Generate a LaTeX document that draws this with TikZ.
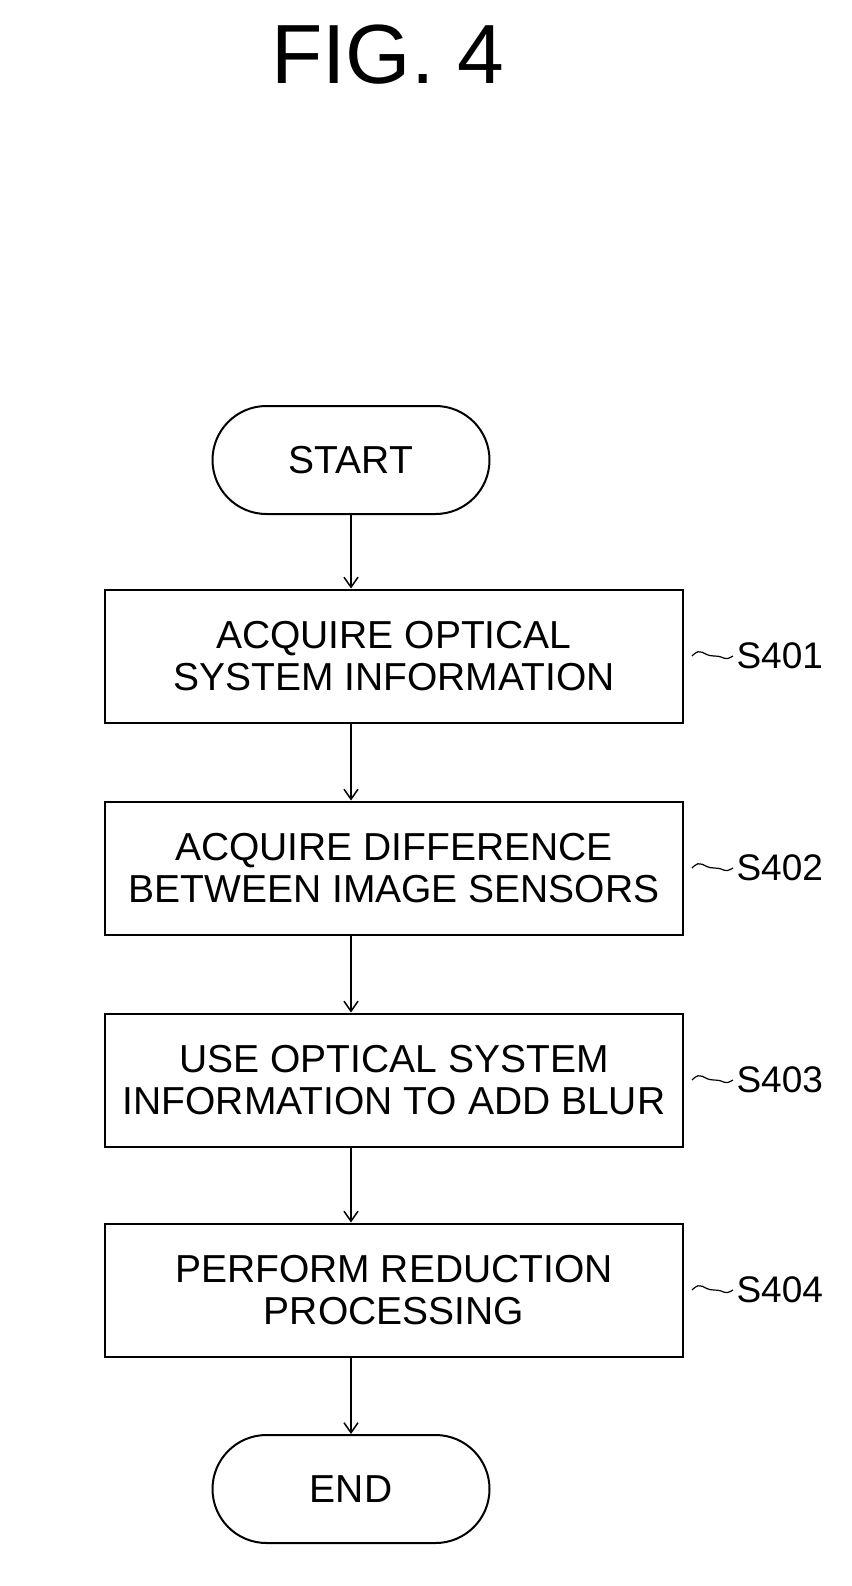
\documentclass[tikz,border=0pt]{standalone}
\usepackage{fontspec}
\setmainfont{Liberation Sans}
\usetikzlibrary{arrows.meta,decorations.pathmorphing}
\begin{document}
\begin{tikzpicture}[x=1pt,y=1pt,
  box/.style={draw,line width=2pt,minimum width=578pt,minimum height=133pt,align=center,font=\fontsize{39}{42}\selectfont},
  term/.style={draw,line width=2pt,rounded corners=54pt,minimum width=277pt,minimum height=108pt,font=\fontsize{39}{42}\selectfont},
  arr/.style={line width=1.5pt,-{Straight Barb[length=10pt,width=14pt]}},
  lab/.style={font=\fontsize{37}{40}\selectfont,anchor=west},
  sq/.style={line width=1.2pt}]
\useasboundingbox (0,0) rectangle (851,-1586);
\node (title) at (388,-55) {\fontsize{84}{88}\selectfont FIG. 4};
\node[term] (start) at (351,-460) {START};
\node[box] (b1) at (394,-656) {ACQUIRE OPTICAL\\SYSTEM INFORMATION};
\node[box] (b2) at (394,-868) {ACQUIRE DIFFERENCE\\BETWEEN IMAGE SENSORS};
\node[box] (b3) at (394,-1080) {USE OPTICAL SYSTEM\\INFORMATION TO ADD BLUR};
\node[box] (b4) at (394,-1290) {PERFORM REDUCTION\\PROCESSING};
\node[term] (end) at (351,-1489) {END};
\draw[arr] (start.south) -- (start.south |- b1.north);
\draw[arr] (b1.south -| start.south) -- (b2.north -| start.south);
\draw[arr] (b2.south -| start.south) -- (b3.north -| start.south);
\draw[arr] (b3.south -| start.south) -- (b4.north -| start.south);
\draw[arr] (b4.south -| start.south) -- (end.north);
\foreach \i/\y in {1/656,2/868,3/1080,4/1290}{
  \node[lab] (l\i) at (733,-\y) {S40\i};
  \draw[sq] (b\i.east) ++(8,0) .. controls +(10,10) and +(-12,0) .. +(22,0) .. controls +(12,0) and +(-10,-6) .. (l\i.west);
}
\end{tikzpicture}
\end{document}
